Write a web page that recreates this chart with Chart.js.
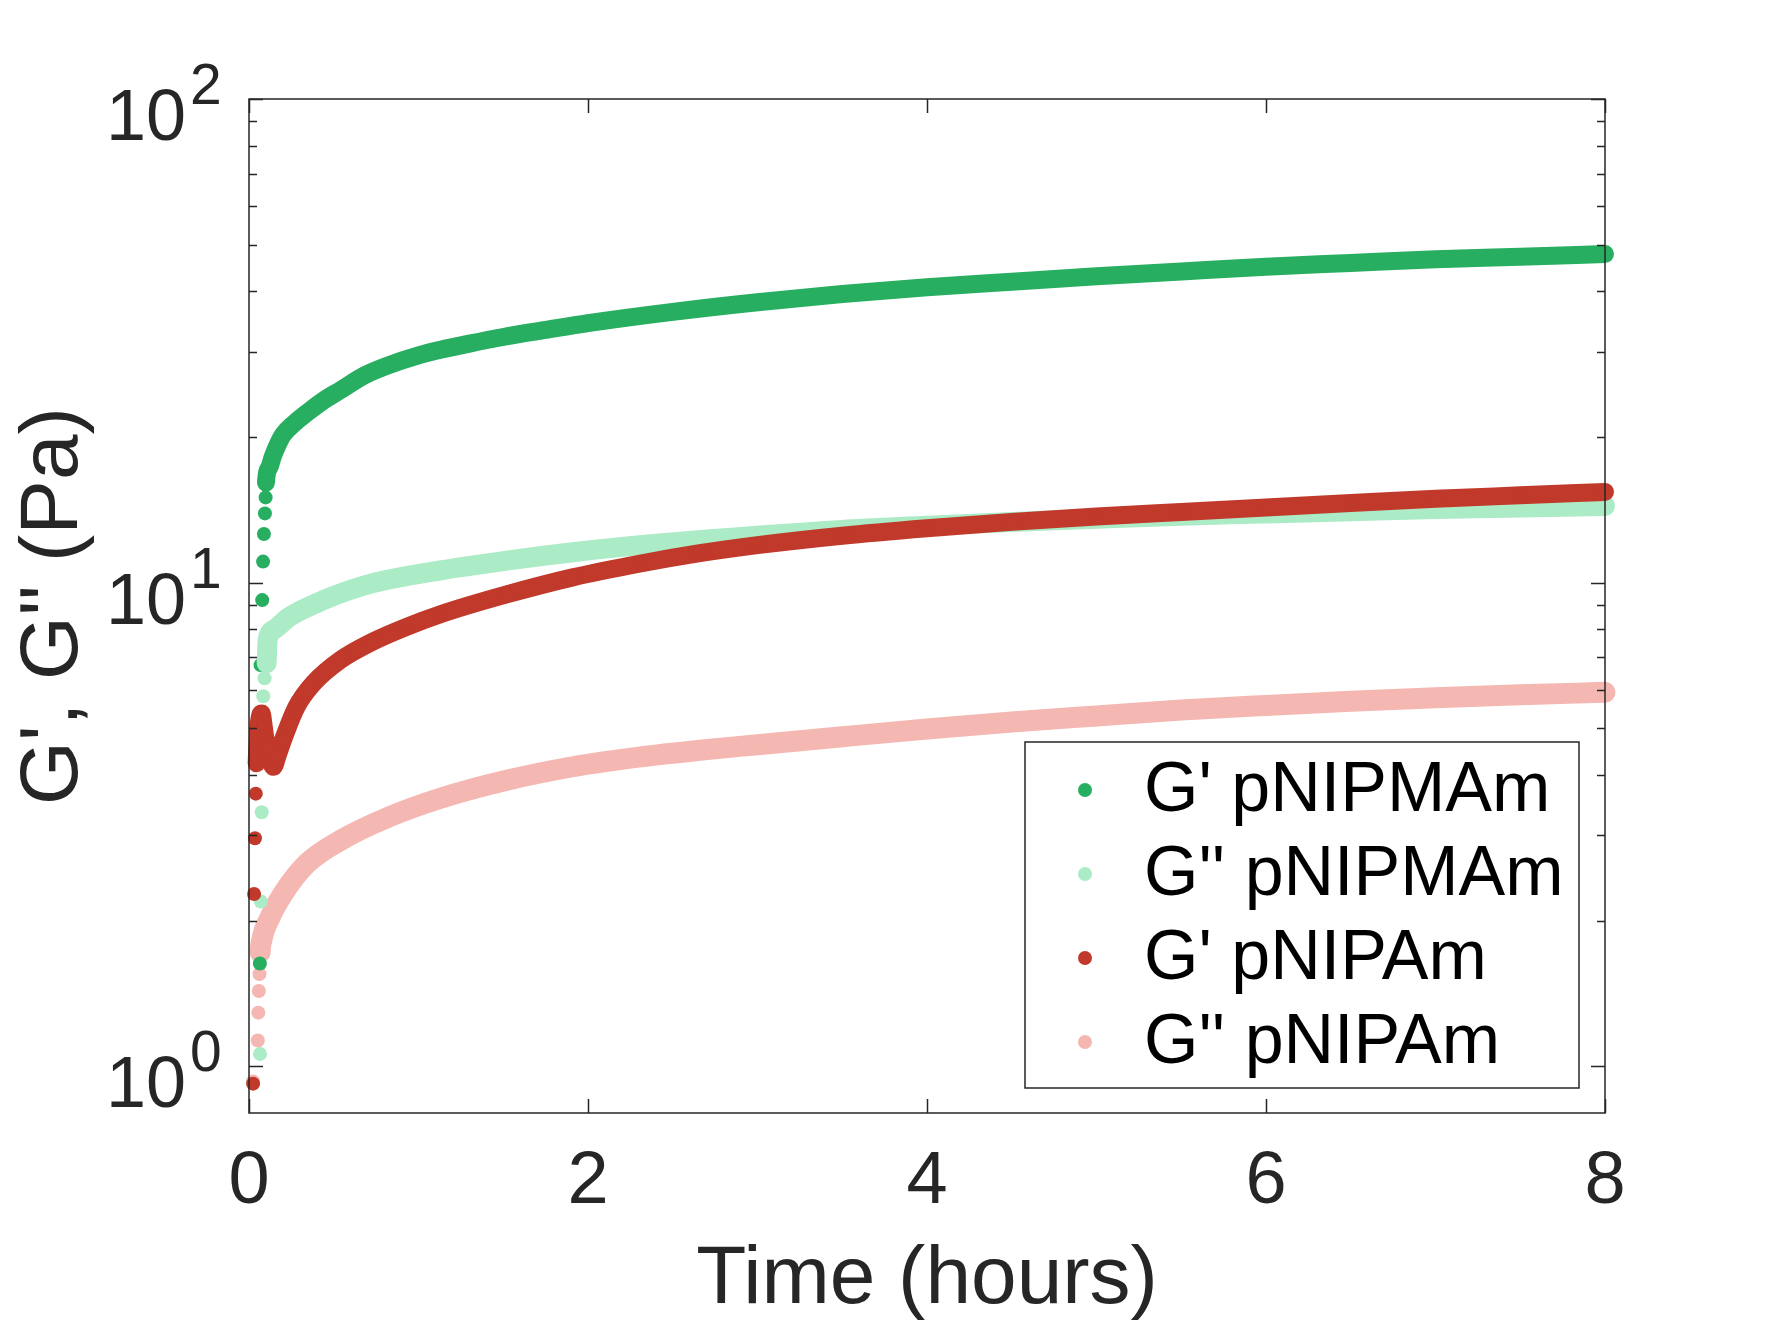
<!DOCTYPE html>
<html>
<head>
<meta charset="utf-8">
<title>G', G'' vs time</title>
<script src="https://cdn.jsdelivr.net/npm/chart.js@4.4.1/dist/chart.umd.min.js"></script>
<style>
  html, body { margin: 0; padding: 0; background: #fff; }
  #wrap { width: 1772px; height: 1328px; }
</style>
</head>
<body>
<div id="wrap"><canvas id="chart"></canvas></div>
<script>
// Values (time in hours, moduli in Pa)
// each series: a few scattered start-up points, then the dense band
const tGpMA = [0.064, 0.068, 0.078, 0.083, 0.088, 0.094, 0.098,
  0.1, 0.12, 0.14, 0.17, 0.2, 0.27, 0.34, 0.44, 0.54, 0.68, 0.83, 1.0, 1.13, 1.3, 1.5, 1.75,
  2.0, 2.5, 3.0, 3.5, 4.0, 4.5, 5.0, 5.5, 6.0, 6.5, 7.0, 7.5, 8.0];
const gpMA = [1.63, 6.75, 9.2, 11.05, 12.6, 13.9, 15.0,
  16.1, 17.3, 18.2, 19.3, 20.2, 21.4, 22.4, 23.8, 25.0, 26.8, 28.2, 29.5, 30.3, 31.2, 32.2, 33.3,
  34.4, 36.3, 38.0, 39.5, 40.8, 41.9, 43.0, 44.0, 45.0, 45.8, 46.6, 47.2, 47.8];
const gpMASparse = 7;

const tGppMA = [0.065, 0.07, 0.075, 0.084, 0.092,
  0.104, 0.11, 0.144, 0.24, 0.44, 0.73, 1.13, 1.52, 1.91, 2.31, 3.0, 3.5,
  4.0, 4.5, 5.0, 5.5, 6.0, 6.5, 7.0, 7.5, 8.0];
const gppMA = [1.06, 2.19, 3.35, 5.82, 6.34,
  6.81, 7.6, 7.98, 8.5, 9.2, 9.97, 10.6, 11.1, 11.55, 11.95, 12.5, 12.85,
  13.1, 13.35, 13.55, 13.75, 13.9, 14.05, 14.2, 14.3, 14.4];
const gppMASparse = 5;

const tGpA = [0.024, 0.03, 0.035, 0.04,
  0.045, 0.05, 0.055, 0.065, 0.075, 0.085, 0.095, 0.11, 0.13, 0.144, 0.17, 0.2, 0.28, 0.38,
  0.54, 0.73, 0.93, 1.13, 1.52, 1.91, 2.31, 2.66, 3.0, 3.5, 4.0, 4.5, 5.0, 5.5, 6.0, 6.5,
  7.0, 7.5, 8.0];
const gpA = [0.92, 2.27, 2.96, 3.66,
  4.23, 4.6, 5.0, 5.3, 5.36, 5.1, 4.8, 4.5, 4.25, 4.16, 4.4, 4.72, 5.53, 6.19,
  6.92, 7.55, 8.1, 8.6, 9.45, 10.25, 10.95, 11.5, 11.95, 12.5, 12.95, 13.35, 13.7, 14.0, 14.3, 14.6,
  14.9, 15.15, 15.4];
const gpASparse = 4;

const tGppA = [0.024, 0.052, 0.055, 0.058, 0.062,
  0.066, 0.075, 0.124, 0.2, 0.34, 0.54, 0.83, 1.13, 1.52, 1.91, 2.31, 2.66, 3.0, 3.5,
  4.0, 4.5, 5.0, 5.5, 6.0, 6.5, 7.0, 7.5, 8.0];
const gppA = [0.93, 1.13, 1.29, 1.43, 1.55,
  1.72, 1.82, 2.03, 2.27, 2.62, 2.93, 3.28, 3.58, 3.9, 4.16, 4.36, 4.5, 4.62, 4.8,
  4.98, 5.15, 5.3, 5.45, 5.57, 5.68, 5.78, 5.86, 5.93];
const gppASparse = 5;

const seriesLabels = ["G' pNIPMAm", "G'' pNIPMAm", "G' pNIPAm", "G'' pNIPAm"];

// axis ticks
const xTicks = [0, 2, 4, 6, 8];
const yMajorTicks = [1, 10, 100];
const yExponents = ['0', '1', '2'];
const yMinorTicks = [2, 3, 4, 5, 6, 7, 8, 9, 20, 30, 40, 50, 60, 70, 80, 90];

const FONT = "'Liberation Sans', Arial, Helvetica, sans-serif";
const INK = '#262626';

function toPoints(t, v) {
  return t.map((x, i) => ({ x: x, y: v[i] }));
}

function makeDataset(label, t, v, nSparse, color, width, order) {
  return {
    label: label,
    data: toPoints(t, v),
    order: order,
    showLine: true,
    borderColor: color,
    backgroundColor: color,
    borderWidth: width,
    borderCapStyle: 'round',
    borderJoinStyle: 'round',
    pointRadius: 7,
    pointHoverRadius: 7,
    pointBorderWidth: 0,
    cubicInterpolationMode: 'monotone',
    clip: false,
    // no line between the scattered start-up points
    segment: {
      borderColor: ctx => ctx.p0DataIndex < nSparse ? 'rgba(0,0,0,0)' : undefined
    }
  };
}

// box, inward ticks and 10^n labels
const framePlugin = {
  id: 'frame',
  afterDatasetsDraw(chart) {
    const { ctx, chartArea: a } = chart;
    const xs = chart.scales.x, ys = chart.scales.y;
    ctx.save();
    ctx.strokeStyle = INK;
    ctx.lineWidth = 1.5;
    ctx.strokeRect(a.left, a.top, a.right - a.left, a.bottom - a.top);
    ctx.beginPath();
    xTicks.forEach(v => {
      const px = Math.round(xs.getPixelForValue(v)) + 0.5;
      ctx.moveTo(px, a.bottom); ctx.lineTo(px, a.bottom - 14);
      ctx.moveTo(px, a.top); ctx.lineTo(px, a.top + 14);
    });
    ys.ticks.forEach(t => {
      const py = Math.round(ys.getPixelForValue(t.value)) + 0.5;
      const len = yMajorTicks.includes(t.value) ? 14 : 8;
      ctx.moveTo(a.left, py); ctx.lineTo(a.left + len, py);
      ctx.moveTo(a.right, py); ctx.lineTo(a.right - len, py);
    });
    ctx.stroke();

    ctx.fillStyle = INK;
    ctx.textBaseline = 'alphabetic';
    yMajorTicks.forEach((v, i) => {
      const py = ys.getPixelForValue(v);
      ctx.font = '72px ' + FONT;
      ctx.textAlign = 'right';
      ctx.fillText('10', a.left - 63, py + 41);
      ctx.font = '57px ' + FONT;
      ctx.textAlign = 'left';
      ctx.fillText(yExponents[i], a.left - 59, py + 5);
    });
    ctx.restore();
  },
  afterDraw(chart) {
    // legend box inside the plot, bottom right
    const { ctx, chartArea: a } = chart;
    const right = a.right - 26, bottom = a.bottom - 25;
    const left = right - 554, top = bottom - 346;
    ctx.save();
    ctx.fillStyle = '#fff';
    ctx.fillRect(left, top, right - left, bottom - top);
    ctx.strokeStyle = INK;
    ctx.lineWidth = 1.5;
    ctx.strokeRect(left, top, right - left, bottom - top);
    ctx.font = '70px ' + FONT;
    ctx.textAlign = 'left';
    ctx.textBaseline = 'middle';
    chart.data.datasets.forEach((ds, i) => {
      const cy = top + 48 + i * 84;
      ctx.fillStyle = ds.backgroundColor;
      ctx.beginPath();
      ctx.arc(left + 60, cy, 7, 0, Math.PI * 2);
      ctx.fill();
      ctx.fillStyle = '#000';
      ctx.fillText(ds.label, left + 119, cy + 2);
    });
    ctx.restore();
  }
};

const chart = new Chart(document.getElementById('chart'), {
  type: 'scatter',
  data: {
    datasets: [
      makeDataset(seriesLabels[0], tGpMA, gpMA, gpMASparse, '#27ae60', 18, 2),
      makeDataset(seriesLabels[1], tGppMA, gppMA, gppMASparse, '#abebc6', 20, 1),
      makeDataset(seriesLabels[2], tGpA, gpA, gpASparse, '#c0392b', 18, 0),
      makeDataset(seriesLabels[3], tGppA, gppA, gppASparse, '#f5b7b1', 21, 3)
    ]
  },
  options: {
    responsive: true,
    maintainAspectRatio: false,
    animation: false,
    events: [],
    layout: { padding: { left: 0, right: 167, top: 99, bottom: 0 } },
    plugins: {
      legend: { display: false },
      tooltip: { enabled: false }
    },
    scales: {
      x: {
        type: 'linear',
        min: 0,
        max: 8,
        grid: { display: false, drawTicks: false },
        border: { display: false },
        afterBuildTicks: s => { s.ticks = xTicks.map(v => ({ value: v })); },
        afterFit: s => { s.height = 215; },
        ticks: {
          padding: 25,
          color: INK,
          font: { family: FONT, size: 74 },
          callback: v => String(v)
        },
        title: {
          display: true,
          text: 'Time (hours)',
          color: INK,
          font: { family: FONT, size: 82, lineHeight: 1 },
          padding: { top: 0, bottom: 7 }
        }
      },
      y: {
        type: 'logarithmic',
        min: 0.8,
        max: 100,
        grid: { display: false, drawTicks: false },
        border: { display: false },
        afterBuildTicks: s => {
          s.ticks = yMajorTicks.concat(yMinorTicks)
            .sort((p, q) => p - q)
            .map(v => ({ value: v, major: yMajorTicks.includes(v) }));
        },
        afterFit: s => { s.width = 249; },
        ticks: { display: false },
        title: {
          display: true,
          text: "G', G'' (Pa)",
          color: INK,
          font: { family: FONT, size: 82, lineHeight: 1 },
          padding: { top: 13, bottom: 0 }
        }
      }
    }
  },
  plugins: [framePlugin]
});
</script>
</body>
</html>
